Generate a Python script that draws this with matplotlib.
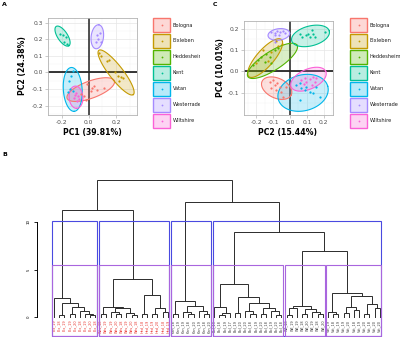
import matplotlib.pyplot as plt
import numpy as np
from matplotlib.patches import Rectangle

plt.rcParams['axes.unicode_minus'] = False
plt.rcParams['font.family'] = ['DejaVu Sans']

sites = ["Bologna", "Elxleben", "Heddesheim", "Kent", "Vatan", "Westerrade", "Wiltshire"]
colors = ["#F8766D", "#C49A00", "#53B400", "#00C094", "#00B6EB", "#A58AFF", "#FB61D7"]

# panel A: PC1 / PC2 scores per site (Heddesheim not drawn)
a_x = [[-0.014, 0.027, 0.014, 0.063, 0.11, 0.04, -0.034, -0.022, -0.06],
       [0.075, 0.087, 0.135, 0.147, 0.196, 0.212, 0.237, 0.22, 0.25],
       [],
       [-0.21, -0.19, -0.167, -0.179, -0.159],
       [-0.115, -0.13, -0.143, -0.135, -0.118, -0.15],
       [0.063, 0.082, 0.067, 0.051, 0.087],
       [-0.094, -0.082, -0.106, -0.07, -0.087, -0.1]]
a_y = [[-0.067, -0.096, -0.11, -0.108, -0.096, -0.08, -0.143, -0.163, -0.13],
       [0.12, 0.10, 0.072, 0.076, 0.0, -0.02, -0.03, -0.05, -0.035],
       [],
       [0.231, 0.225, 0.215, 0.184, 0.174],
       [0.01, -0.02, -0.05, -0.10, -0.11, -0.12],
       [0.225, 0.239, 0.199, 0.184, 0.184],
       [-0.123, -0.143, -0.153, -0.157, -0.174, -0.135]]
# ellipse: centre + conjugate semi-axes
a_cx = [0.0145, 0.201, None, -0.193, -0.118, 0.063, -0.094]
a_cy = [-0.103, 0.0, None, 0.219, -0.102, 0.215, -0.149]
a_ux = [0.174, 0.127, None, 0.047, 0.011, 0.011, 0.004]
a_uy = [0.052, -0.133, None, -0.058, -0.132, 0.072, -0.067]
a_vx = [0.020, 0.039, None, -0.030, 0.069, 0.045, 0.051]
a_vy = [-0.049, 0.027, None, -0.017, 0.004, -0.005, 0.0]

# panel C: PC2 / PC4 scores per site
c_x = [[-0.120, -0.101, -0.091, -0.077, -0.061, -0.110, -0.085, -0.051, -0.041, -0.025],
       [-0.08, -0.07, -0.2, -0.16, -0.13, -0.05, -0.11],
       [-0.221, -0.191, -0.169, -0.150, -0.140, -0.120, -0.110, -0.091, -0.073],
       [0.057, 0.073, 0.093, 0.107, 0.117, 0.136, 0.146, 0.127, 0.205],
       [0.038, 0.057, 0.067, 0.087, 0.097, 0.117, 0.136, 0.176, 0.057, 0.156],
       [-0.110, -0.091, -0.077, -0.061, -0.041, -0.091, -0.065, -0.031, -0.091],
       [0.067, 0.087, 0.097, 0.117, 0.136, 0.146, 0.127, 0.156, 0.081]]
c_y = [[-0.049, -0.041, -0.064, -0.054, -0.075, -0.080, -0.088, -0.096, -0.119, -0.072],
       [0.14, 0.12, 0.04, 0.10, 0.05, 0.13, 0.09],
       [0.029, 0.052, 0.068, 0.044, 0.083, 0.068, 0.037, 0.099, 0.108],
       [0.177, 0.161, 0.169, 0.177, 0.161, 0.177, 0.161, 0.193, 0.185],
       [-0.064, -0.057, -0.080, -0.088, -0.072, -0.096, -0.103, -0.119, -0.135, -0.072],
       [0.185, 0.180, 0.189, 0.185, 0.189, 0.169, 0.172, 0.178, 0.138],
       [-0.041, -0.033, -0.049, -0.038, -0.026, -0.049, -0.064, -0.033, -0.060]]
c_cx = [-0.079, -0.147, -0.104, 0.121, 0.077, -0.066, 0.109]
c_cy = [-0.079, 0.062, 0.049, 0.166, -0.101, 0.173, -0.037]
c_ux = [0.086, 0.096, 0.145, 0.111, 0.146, 0.064, 0.102]
c_uy = [-0.032, 0.087, 0.074, 0.023, 0.031, 0.005, 0.037]
c_vx = [-0.025, 0.038, 0.030, -0.015, -0.028, 0.0, -0.025]
c_vy = [-0.042, -0.026, -0.037, 0.045, 0.081, 0.027, 0.042]

# panel B: hierarchical clustering, (height, left, right), leaves = 0
o = 0
box1 = (2.0, o, (1.5, (0.25, o, o), (1.1, (0.3, o, o), (0.6, o, (0.35, o, (0.2, o, o))))))
box2 = (4.0, (1.1, (0.35, o, o), (0.9, (0.5, o, (0.3, o, o)), (0.4, o, (0.25, o, o)))),
        (2.3, (0.3, o, o), (1.0, (0.3, o, o), (0.5, o, o))))
box3 = (1.7, (0.3, o, o), (1.2, (0.5, o, (0.3, o, o)), (0.6, o, (0.3, o, o))))
box4a = (3.5, (1.1, o, (0.4, (0.2, o, o), o)),
         (2.1, (0.4, o, o), (1.5, (0.6, o, (0.3, o, o)), (1.0, (0.3, o, o), (0.6, o, (0.25, o, o))))))
box4b = (1.2, (0.9, (0.25, o, o), o), (0.8, (0.3, o, o), (0.5, o, (0.3, o, o))))
box4c = (2.5, (0.5, o, (0.3, o, o)), (2.2, (1.1, (0.4, o, o), (0.7, o, o)), (1.4, (0.3, o, o), (0.9, o, o))))
tree = (14.4, (11.3, box1, box2), (12.1, box3, (8.9, box4a, (6.9, box4b, box4c))))

leaf_labels = (["Elx_19", "Elx_18", "Elx_19", "Elx_19", "Elx_20", "Elx_18", "Elx_19", "Elx_20", "Elx_18"]
               + ["Wes_18", "Wes_19", "Wes_19", "Wes_20", "Wes_18", "Wes_19", "Wes_20", "Wes_18",
                  "Hed_18", "Hed_19", "Hed_19", "Hed_20", "Hed_18", "Hed_19"]
               + ["Ken_18", "Ken_19", "Ken_19", "Ken_18", "Ken_20", "Ken_19", "Ken_18", "Ken_20"]
               + ["Bol_19", "Bol_18", "Bol_19", "Bol_17", "Bol_19", "Bol_20", "Bol_20", "Bol_18",
                  "Bol_19", "Bol_20", "Bol_18", "Bol_19", "Bol_20", "Bol_18"]
               + ["Wil_18", "Wil_19", "Wil_19", "Wil_18", "Wil_20", "Wil_19", "Wil_18", "Wil_20"]
               + ["Vat_19", "Vat_18", "Vat_19", "Vat_19", "Vat_20", "Vat_18", "Vat_19", "Vat_20",
                  "Vat_18", "Vat_20", "Vat_20"])
n_red = 23

W, H = 400, 337
fig = plt.figure(figsize=(W / 100, H / 100), dpi=100)


def px_axes(x0, y0, x1, y1):
    return fig.add_axes([x0 / W, 1 - y1 / H, (x1 - x0) / W, (y1 - y0) / H])


def pca_panel(box, xs, ys, cx, cy, ux, uy, vx, vy, xlim, ylim, xticks, yticks):
    ax = px_axes(*box)
    ax.set_xlim(xlim)
    ax.set_ylim(ylim)
    ax.set_xticks(xticks)
    ax.set_yticks(yticks)
    step_x = xticks[1] - xticks[0]
    step_y = yticks[1] - yticks[0]
    ax.set_xticks(np.arange(xticks[0] - step_x / 2, xlim[1], step_x), minor=True)
    ax.set_yticks(np.arange(yticks[0] - step_y / 2, ylim[1], step_y), minor=True)
    ax.xaxis.set_major_formatter(lambda v, p: "%.1f" % v)
    ax.yaxis.set_major_formatter(lambda v, p: "%.1f" % v)
    ax.grid(True, which="major", color="#e6e6e6", lw=0.5)
    ax.grid(True, which="minor", color="#f2f2f2", lw=0.3)
    ax.set_axisbelow(True)
    ax.tick_params(which="major", labelsize=4.3, labelcolor="#4d4d4d", color="#b3b3b3",
                   length=2, width=0.5, pad=1.5)
    ax.tick_params(which="minor", length=0)
    for s in ax.spines.values():
        s.set_color("#b3b3b3")
        s.set_linewidth(0.6)
    ax.axhline(0, color="black", lw=1.1, zorder=1)
    ax.axvline(0, color="#222222", lw=1.1, zorder=1)
    t = np.linspace(0, 2 * np.pi, 120)
    for i, col in enumerate(colors):
        if cx[i] is not None:
            ex = cx[i] + ux[i] * np.cos(t) + vx[i] * np.sin(t)
            ey = cy[i] + uy[i] * np.cos(t) + vy[i] * np.sin(t)
            ax.fill(ex, ey, facecolor=col, alpha=0.22, zorder=2)
            ax.plot(ex, ey, color=col, lw=0.8, zorder=3)
    for i, col in enumerate(colors):
        ax.scatter(xs[i], ys[i], s=2.6, color=col, lw=0, zorder=4)
    return ax


def legend_panel(x0, x1):
    lg = px_axes(x0, 15, x1, 132)
    lg.set_xlim(x0, x1)
    lg.set_ylim(132, 15)
    lg.axis("off")
    for i, (name, col) in enumerate(zip(sites, colors)):
        yc = 25 + i * 16
        lg.add_patch(Rectangle((x0 + 3, yc - 7.3), 17, 14.6, facecolor=col, alpha=0.28, lw=0))
        lg.add_patch(Rectangle((x0 + 3, yc - 7.3), 17, 14.6, facecolor="none", edgecolor=col, lw=1.0))
        lg.plot([x0 + 11.5], [yc], "o", ms=1.3, color=col, mew=0)
        lg.text(x0 + 22.5, yc, name, fontsize=3.65, color="#1a1a1a", va="center", ha="left",
                clip_on=True)


pca_panel((48, 18, 137, 115), a_x, a_y, a_cx, a_cy, a_ux, a_uy, a_vx, a_vy,
          (-0.29, 0.355), (-0.256, 0.328), [-0.2, 0.0, 0.2], [-0.2, -0.1, 0.0, 0.1, 0.2, 0.3])
fig.text(92 / W, 1 - 132 / H, "PC1 (39.81%)", fontsize=5.6, fontweight="bold", ha="center", va="center")
fig.text(22 / W, 1 - 66 / H, "PC2 (24.38%)", fontsize=5.6, fontweight="bold", ha="center", va="center",
         rotation=90)
legend_panel(150, 200)

pca_panel((244, 21, 333, 115), c_x, c_y, c_cx, c_cy, c_ux, c_uy, c_vx, c_vy,
          (-0.272, 0.254), (-0.205, 0.236), [-0.2, -0.1, 0.0, 0.1, 0.2], [-0.1, 0.0, 0.1, 0.2])
fig.text(288 / W, 1 - 132 / H, "PC2 (15.44%)", fontsize=5.6, fontweight="bold", ha="center", va="center")
fig.text(220 / W, 1 - 68 / H, "PC4 (10.01%)", fontsize=5.6, fontweight="bold", ha="center", va="center",
         rotation=90)
legend_panel(347, 400)

fig.text(2 / W, 1 - 5 / H, "A", fontsize=4.5, fontweight="bold", ha="left", va="center")
fig.text(213 / W, 1 - 5 / H, "C", fontsize=4.5, fontweight="bold", ha="left", va="center")
fig.text(2 / W, 1 - 154 / H, "B", fontsize=4.5, fontweight="bold", ha="left", va="center")

# dendrogram
dx = px_axes(37, 170, 400, 337)
spacing = 5.17
dx.set_xlim((37 - 48.83) / spacing, (400 - 48.83) / spacing)
dx.set_ylim(-(337 - 317) / 9.5, (317 - 170) / 9.5)
for side in ["top", "right", "bottom"]:
    dx.spines[side].set_visible(False)
dx.spines["left"].set_bounds(0, 10)
dx.spines["left"].set_linewidth(0.7)
dx.set_xticks([])
dx.set_yticks([0, 5, 10])
dx.tick_params(axis="y", labelsize=2.8, length=2.5, width=0.6, pad=2, labelrotation=90)
for lab in dx.get_yticklabels():
    lab.set_va("center")

counter = [0]
heights = []
clusters = []


def draw(node):
    if not isinstance(node, tuple):
        counter[0] += 1
        return counter[0], 0.0, [counter[0]]
    h, left, right = node
    xl, hl, ll = draw(left)
    xr, hr, lr = draw(right)
    dx.plot([xl, xl, xr, xr], [hl, h, h, hr], color="#2b2b2b", lw=0.7, solid_joinstyle="miter")
    heights.append(h)
    clusters.append((h, hl, hr, ll, lr))
    return (xl + xr) / 2, h, ll + lr


draw(tree)
for i, lab in enumerate(leaf_labels):
    dx.text(i + 1, -0.3, lab, rotation=90, fontsize=2.5, ha="center", va="top",
            color="#e8352e" if i < n_red else "#3a3a3a")

hs = sorted(heights, reverse=True)
ybot = dx.get_ylim()[0] + 0.08
for k, col in [(4, "#4a4ae0"), (6, "#a966de")]:
    cut = (hs[k - 2] + hs[k - 1]) / 2
    groups = []
    for h, hl, hr, ll, lr in clusters:
        if h > cut:
            if hl < cut:
                groups.append(ll)
            if hr < cut:
                groups.append(lr)
    for g in groups:
        dx.add_patch(Rectangle((min(g) - 0.34, ybot), max(g) - min(g) + 0.67, cut - ybot,
                               facecolor="none", edgecolor=col, lw=0.8, zorder=5))

fig.savefig("out.png", dpi=100)
